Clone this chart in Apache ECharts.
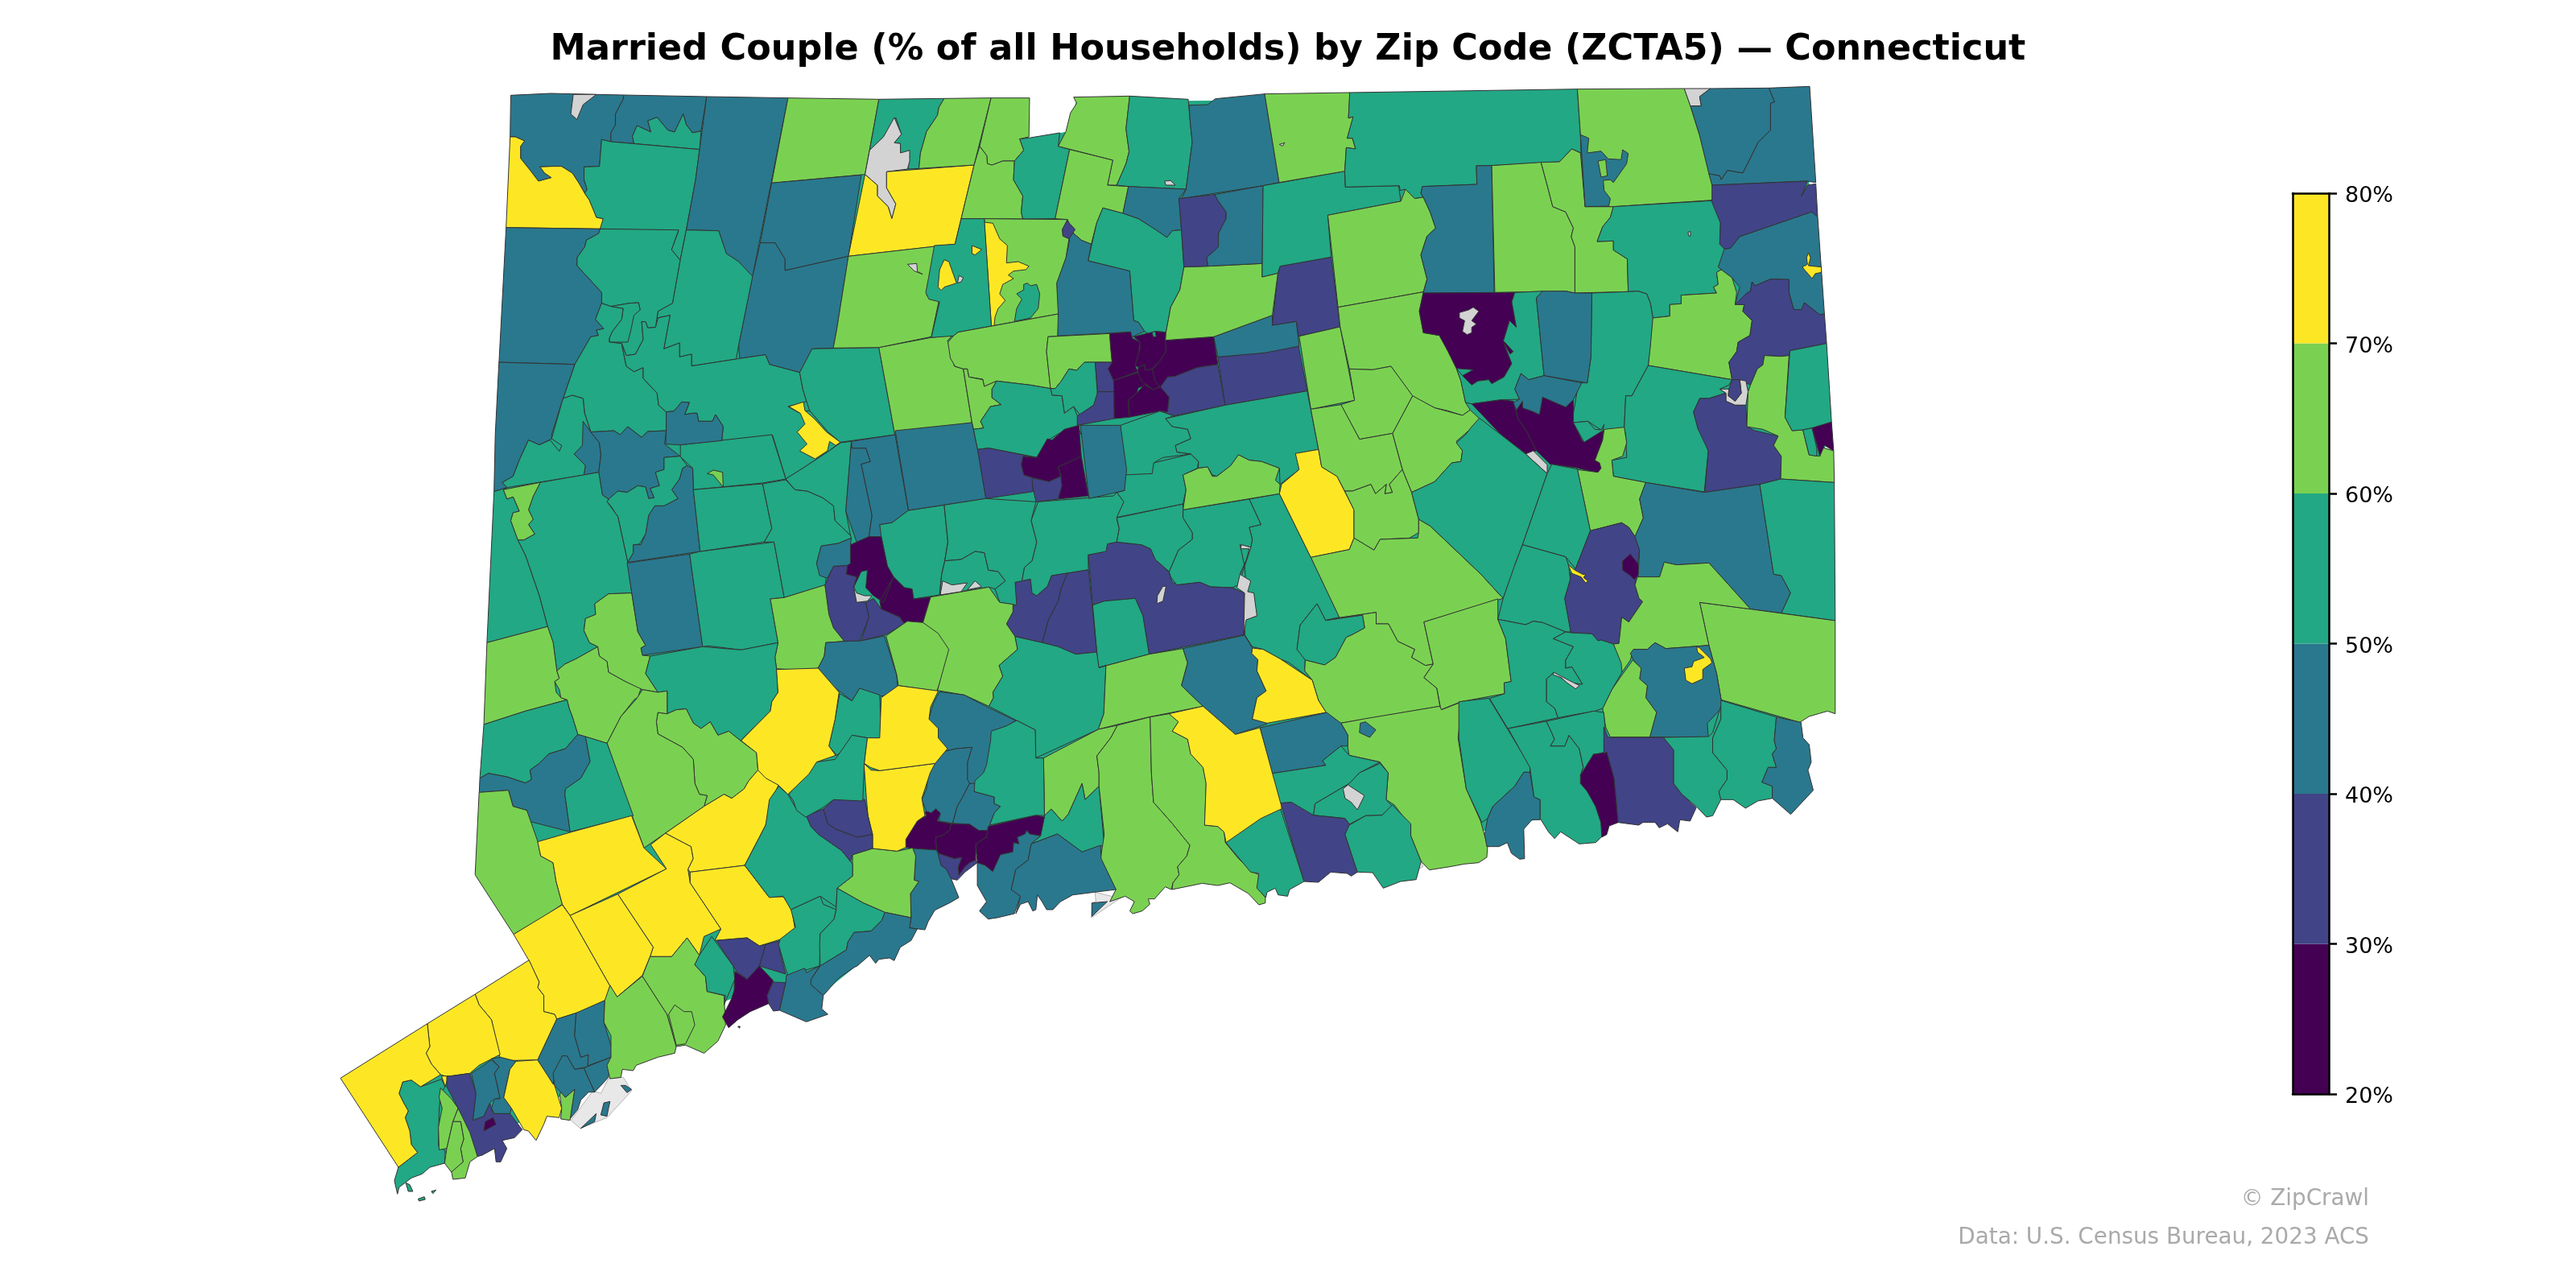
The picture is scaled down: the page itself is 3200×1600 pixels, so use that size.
<!DOCTYPE html>
<html>
  <head>
    <meta charset="UTF-8">
    <title>Married Couple by Zip Code - Connecticut</title>
    <script src="https://cdn.jsdelivr.net/npm/echarts@6/dist/echarts.min.js"></script>
    <style>html,body{margin:0;background:#fff}</style>
  </head>
  <body>
    <div id="box" style="width:3200px;height:1600px"></div>
    <script>
        // map boundaries are traced per crop: origin x, origin y, x scale, y scale
        var frames = {
            A: [600, 90, 2.613, 3], B: [1150, 90, 2.613, 3], C: [1700, 90, 2.613, 3],
            D: [580, 540, 2.613, 3], E: [1150, 540, 2.613, 3], F: [1700, 540, 2.613, 3],
            G: [400, 1000, 2.613, 3], H: [950, 960, 2.613, 3], I: [1500, 820, 1.96, 3],
            O: [0, 0, 0.49, 0.49]
        };

        var bandLabels = ['20%', '30%', '40%', '50%', '60%', '70%', '80%'];
        var bandTicks = [20, 30, 40, 50, 60, 70, 80];
        var barSteps = [30, 10, 10, 10, 10, 10];   // stacked, the first one is clipped at 20

        // inset state outline under everything, closes slivers between traced zones
        var landShare = 55;
        var landShape = ['O', [318,62,620,62,625,85,650,80,655,62,1098,58,1112,290,1112,430,1090,435,1095,470,1060,480,1000,490,940,498,860,515,800,515,760,528,700,530,640,538,605,535,597,520,580,520,572,545,550,565,500,605,470,598,440,610,385,645,340,668,290,700,250,705,230,680,215,657,260,632,289,613,325,597,330,575,300,540,295,480,303,300]];

        // coast patches, lightest grey, drawn next
        var paleShapes = [
            ['G', [808,1175,838,1205,925,1165,1005,1065,978,1015,930,1020,905,1075,880,1065]],
            ['H', [1072,445,1125,460,1170,455,1060,540,1062,485,1075,480]],
            ['I', [492,655,520,750,525,770,505,785,482,730]]
        ];

        // percent per zone, read from the colour band (null = no data)
        var sharesA = [45,75,null,45,55,55,45,65,45,45,55,55,45,55,55,55,75,55,65,55,null,75,65,65,null];
        var shapesA = [
            ['A', [90,85,220,78,368,82,457,84,455,100,430,155,430,195,415,225,415,258,385,250,378,350,328,352,328,400,338,435,330,450,310,410,290,375,255,350,225,350,185,352,200,375,222,392,180,405,150,360,122,320,122,275,135,255,105,240,88,240]],
            ['A', [88,240,105,240,135,255,122,275,122,320,150,360,180,405,222,392,200,375,185,352,225,350,255,350,290,375,310,410,330,450,345,475,362,520,368,540,390,545,388,570,380,583,75,578]],
            ['A', [293,82,368,82,325,120,305,175,285,155]],
            ['A', [457,84,726,90,708,218,680,225,660,195,650,155,635,190,622,222,600,215,565,167,535,180,545,222,500,198,485,238,490,265,415,258,415,225,430,195,430,155,455,100]],
            ['A', [500,198,545,222,535,180,565,167,600,215,622,222,635,190,650,155,660,195,680,225,708,218,703,287,490,265,485,238]],
            ['A', [385,250,415,258,703,287,690,400,660,585,640,700,612,660,635,590,380,583,390,545,368,540,345,475,330,450,338,435,328,400,328,352,378,350]],
            ['A', [726,90,990,95,935,412,875,760,850,735,830,705,790,675,765,590,660,587,690,400,703,287]],
            ['A', [990,95,1285,100,1240,380,937,412]],
            ['A', [937,412,1228,382,1186,685,980,738,980,695,948,635,900,635]],
            ['A', [900,635,948,635,980,695,980,738,1186,685,1148,960,1137,1027,1068,1030,1048,1075,1028,1118,930,1088,917,1052,833,1066,830,1015,875,760]],
            ['A', [660,587,765,590,790,675,830,705,875,760,830,1015,822,1068,677,1094,677,1050,638,1060,638,1008,587,1030,607,905,565,915,568,890,615,860,640,700]],
            ['A', [380,583,635,587,612,660,640,700,615,860,568,890,560,950,535,952,528,930,515,928,520,995,495,1050,465,1055,450,1010,410,1005,410,990,420,965,450,920,455,880,490,880,510,885,505,858,475,860,415,872,385,860,385,820,365,795,305,720,305,690,330,650,335,625,375,600]],
            ['A', [75,578,380,583,375,600,335,625,330,650,305,690,305,720,365,795,385,820,385,860,365,920,392,955,368,960,375,980,350,985,298,1088,52,1080]],
            ['A', [415,872,475,860,505,858,510,885,490,905,480,960,470,1005,410,1005,410,990,420,965,450,920,455,880]],
            ['A', [385,860,415,872,455,880,450,920,420,965,410,990,410,1005,450,1010,465,1095,490,1115,520,1100,520,1140,565,1195,570,1240,595,1265,595,1335,535,1338,515,1360,470,1320,445,1350,425,1335,350,1340,330,1270,325,1215,290,1203,260,1215,298,1088,350,985,375,980,368,960,392,955,365,920]],
            ['A', [450,1010,465,1055,495,1050,520,995,515,928,528,930,535,952,560,950,568,915,607,905,587,1030,638,1008,638,1060,677,1050,677,1094,822,1068,833,1066,917,1052,930,1088,1028,1118,1038,1180,1050,1225,1040,1230,990,1245,1025,1268,1060,1260,1090,1300,1120,1340,1160,1378,1118,1415,1038,1475,983,1515,940,1352,775,1372,780,1320,755,1275,745,1300,700,1300,695,1270,680,1270,655,1275,670,1230,645,1228,620,1262,595,1265,570,1240,565,1195,520,1140,520,1100,490,1115,465,1095]],
            ['A', [993,1245,1040,1228,1045,1260,1075,1290,1115,1340,1160,1378,1145,1390,1125,1375,1118,1410,1078,1440,1028,1410,1052,1385,1020,1340,1045,1310,1030,1270]],
            ['A', [1028,1118,1068,1030,1285,1025,1337,1350,1160,1378,1120,1340,1090,1300,1060,1260,1050,1225,1038,1180]],
            ['A', [1285,1025,1455,988,1525,978,1508,1000,1530,1095,1559,1105,1587,1305,1337,1350]],
            ['A', [1285,100,1497,97,1480,130,1475,160,1440,220,1420,300,1415,358,1380,360,1385,310,1355,300,1355,265,1335,262,1358,230,1340,168,1300,240,1255,290]],
            ['A', [1335,168,1358,230,1335,262,1355,265,1355,300,1385,290,1385,330,1378,360,1310,370,1310,430,1340,490,1327,545,1315,500,1280,460,1280,420,1240,380,1255,290,1300,240]],
            ['A', [1240,380,1280,420,1280,460,1315,500,1327,545,1340,490,1310,430,1310,370,1594,345,1532,640,1186,685]],
            ['A', [1497,97,1649,95,1594,345,1415,358,1420,300,1440,220,1475,160,1480,130]],
            ['A', [1186,685,1467,648,1440,830,1480,850,1455,985,1285,1025,1137,1027,1148,960]],
            ['A', [1378,715,1408,712,1410,742,1427,752,1400,740]]
        ];

        var sharesB = [65,65,55,65,55,null,65,45,45,55,45,35,65,75,55,55,75,75,null,65,65,55,35,35,25,25,25,25,25,25,55,35,35,45,35,65,35,45,55,65,null,65,65,55];
        var shapesB = [
            ['B', [212,95,337,95,335,240,305,248,318,290,288,330,250,330,215,345,200,340,198,310,175,275]],
            ['B', [175,275,198,310,200,340,215,345,250,330,288,330,285,400,315,460,310,520,315,546,115,545,157,345]],
            ['B', [305,248,340,243,435,225,430,275,467,287,420,545,315,546,310,520,315,460,285,400,288,330,318,290]],
            ['B', [480,92,662,88,650,210,660,295,650,340,620,420,590,420,607,327,430,275,455,220,470,150,490,115]],
            ['B', [662,88,852,100,858,180,865,260,845,435,658,425,620,420,650,340,660,295,650,210]],
            ['B', [775,405,795,403,810,420,780,420]],
            ['B', [467,287,607,327,590,420,658,425,640,525,575,505,555,560,537,640,505,625,480,600,460,548,420,545]],
            ['B', [855,122,915,120,940,98,1100,80,1147,410,1095,422,830,470,845,435,865,260,858,180]],
            ['B', [658,425,845,435,822,470,830,587,800,590,783,615,745,585,690,545,640,525]],
            ['B', [575,505,640,525,690,545,745,585,783,615,800,590,830,587,838,725,825,810,795,875,780,968,745,965,740,985,710,965,690,930,675,925,662,740,527,702,555,560]],
            ['B', [460,600,480,600,505,625,537,640,527,702,662,740,675,925,690,930,710,965,665,988,665,967,428,982,425,785,455,690,467,625]],
            ['B', [455,548,485,585,465,620,445,610,443,585]],
            ['B', [190,545,460,548,443,585,445,610,465,620,455,690,425,785,430,900,213,945]],
            ['B', [190,558,218,562,240,620,265,645,262,710,300,705,335,722,325,735,285,740,268,755,285,768,250,790,240,825,258,850,235,880,225,910,222,945,213,945]],
            ['B', [288,928,295,880,312,845,295,825,318,810,318,790,330,785,340,795,360,790,370,825,365,880,340,915]],
            ['B', [28,645,95,640,115,545,190,545,213,945,105,968,90,982,18,988,45,855,10,845,0,820,10,760]],
            ['B', [150,645,182,660,160,680,150,675]],
            ['B', [45,735,60,698,75,705,100,785,60,800,50,812,40,800]],
            ['B', [103,785,108,757,122,765,115,780]],
            ['B', [72,1005,90,982,105,968,430,900,428,982,397,985,392,1040,405,1178,340,1165,230,1150,190,1170,185,1143,140,1135,135,1105,122,1105,95,1095,80,1065]],
            ['B', [397,985,597,973,605,1080,515,1080,490,1110,465,1105,440,1150,420,1178,405,1178,392,1040]],
            ['B', [405,1178,420,1178,440,1150,465,1105,490,1110,515,1080,550,1080,558,1210,545,1240,500,1275,480,1245,450,1270,442,1205,410,1203]],
            ['B', [550,1080,605,1080,612,1190,558,1190]],
            ['B', [558,1190,612,1190,612,1290,492,1315,492,1280,545,1240]],
            ['B', [597,973,665,967,670,990,695,1005,690,1060,680,1092,688,1115,610,1148,592,1105,605,1080,600,1025]],
            ['B', [675,985,745,965,778,968,780,1040,760,1075,735,1105,712,1110,710,1088,690,1100,680,1090,695,1030,695,1005]],
            ['B', [778,998,935,985,948,1088,880,1100,810,1132,785,1135,762,1172,740,1150,733,1110,760,1075,780,1040]],
            ['B', [610,1148,688,1118,712,1160,720,1165,690,1175,685,1195,658,1220,660,1285,612,1290]],
            ['B', [658,1220,685,1195,710,1163,738,1182,762,1172,790,1210,785,1265,760,1262,660,1285]],
            ['B', [690,1100,710,1088,712,1110,735,1105,745,1150,760,1172,738,1182,700,1150,688,1115]],
            ['B', [735,968,745,965,748,985,738,985]],
            ['B', [785,1135,810,1132,880,1100,948,1088,972,1240,805,1280,760,1262,785,1265,790,1210,762,1172]],
            ['B', [948,1060,1000,1055,1210,1020,1238,1187,972,1240]],
            ['B', [935,985,1125,905,1125,942,1203,928,1212,1020,1100,1045,1000,1055,948,1060]],
            ['B', [1150,722,1316,688,1345,948,1210,983,1203,928,1125,942,1142,760]],
            ['B', [838,725,916,722,1092,712,1092,762,1143,748,1125,905,935,985,778,998,780,968,795,875,825,810]],
            ['B', [822,470,938,455,950,480,975,520,975,545,950,600,950,650,912,690,916,722,838,725,830,587]],
            ['B', [938,455,1095,422,1092,712,916,722,912,690,950,650,950,600,975,545,975,520,950,480]],
            ['B', [1095,422,1360,368,1362,427,1535,422,1542,480,1305,532,1316,688,1150,722,1143,748,1092,762]],
            ['B', [1100,80,1377,75,1372,170,1388,165,1368,245,1385,245,1395,285,1365,280,1360,368,1147,410]],
            ['B', [1148,268,1165,262,1158,275]],
            ['B', [1212,983,1345,948,1392,1222,1250,1255]],
            ['B', [122,1105,135,1105,140,1135,185,1145,190,1170,230,1150,215,1180,215,1212,245,1238,210,1245,178,1300,188,1325,155,1330,150,1305]],
            ['B', [230,1150,340,1165,405,1178,410,1203,442,1205,450,1270,480,1245,492,1280,492,1315,505,1350,495,1330,440,1340,398,1370,362,1435,205,1400,168,1405,155,1330,188,1325,178,1300,210,1245,245,1238,215,1212,215,1180]]
        ];

        var sharesC = [55,65,65,45,65,65,65,45,65,null,45,45,35,45,75,55,null,65,35,25,null,55,55,45,25,25,null,55,65,55,null,35,35,65,55,55,25];
        var shapesC = [
            ['C', [-61,75,678,62,688,232,690,300,660,285,620,333,400,347,350,348,352,417,175,425,170,450,178,465,150,470,120,435,103,440,100,422,-75,427,-77,368,-72,280,-42,285,-52,245,-69,245,-50,165,-65,170]],
            ['C', [-132,532,105,480,120,435,150,470,178,465,200,520,218,580,190,610,170,680,190,770,178,818,-99,875]],
            ['C', [-99,875,178,818,165,890,178,970,230,980,280,1080,300,1150,315,1230,330,1258,305,1278,255,1260,215,1250,145,1210,73,1095,13,1108,-62,1105,-92,948]],
            ['C', [175,425,352,417,350,348,400,347,408,820,178,822,190,770,170,680,190,610,218,580,200,520,178,465,170,450]],
            ['C', [400,347,560,335,580,420,598,500,640,520,665,580,658,612,670,650,670,822,640,815,410,820]],
            ['C', [560,335,620,333,660,285,688,300,703,500,795,500,785,540,760,575,742,630,795,628,795,662,840,695,843,817,670,822,670,650,658,612,665,580,640,520,598,500,580,420]],
            ['C', [678,62,1025,60,1045,125,1075,235,1128,475,795,500,703,500,688,232]],
            ['C', [688,232,715,245,710,300,755,293,778,322,820,325,825,288,843,302,838,340,795,410,785,400,762,402,765,440,785,470,780,498,703,500]],
            ['C', [745,330,770,325,775,385,755,390]],
            ['C', [1025,60,1110,60,1075,90,1080,125,1045,125]],
            ['C', [1110,60,1300,58,1318,110,1305,115,1305,215,1265,260,1235,330,1215,375,1165,365,1145,400,1140,385,1105,378,1075,235,1045,125,1080,125,1075,90]],
            ['C', [1300,58,1432,52,1452,410,1420,405,1115,420,1105,378,1140,385,1145,400,1165,365,1215,375,1235,330,1265,260,1305,215,1305,115,1318,110]],
            ['C', [1115,420,1425,405,1405,462,1425,420,1452,415,1458,538,1438,520,1205,612,1175,655,1155,658,1140,640,1142,560,1115,510]],
            ['C', [1205,612,1438,520,1458,538,1480,900,1465,903,1415,858,1405,885,1380,883,1365,820,1365,772,1305,770,1255,795,1245,780,1240,815,1225,825,1225,860,1190,865,1205,800,1180,765,1145,735,1135,725,1150,660,1175,655]],
            ['C', [1428,672,1435,690,1428,720,1470,725,1470,745,1450,750,1440,768,1415,735,1408,725,1425,715,1422,690]],
            ['C', [795,500,1113,478,1142,560,1140,640,1155,658,1135,725,1145,735,1130,745,1135,790,1120,800,1130,822,1015,830,1015,862,978,865,978,908,923,915,915,860,903,825,875,815,843,817,840,695,795,662,795,628,742,630,760,575,785,540]],
            ['C', [1037,595,1045,593,1045,610,1040,610]],
            ['C', [1130,745,1145,735,1180,765,1195,820,1190,865,1220,865,1215,890,1245,925,1238,980,1200,1005,1195,1040,1170,1080,1180,1145,908,1092,922,915,978,908,978,865,1015,862,1015,830,1130,822,1120,800,1135,790]],
            ['C', [1225,825,1240,815,1245,780,1255,795,1305,770,1365,772,1365,820,1380,883,1405,885,1415,858,1465,903,1480,900,1487,1010,1368,1037,1365,1055,1340,1058,1285,1055,1280,1090,1262,1105,1240,1165,1205,1145,1180,1145,1170,1080,1195,1040,1200,1005,1238,980,1245,925,1215,890,1220,865,1190,865]],
            ['C', [178,822,475,820,465,855,480,950,458,925,438,1000,470,1040,460,1050,440,1010,465,1085,440,1135,400,1160,390,1145,355,1150,335,1165,305,1130,340,1108,285,1103,258,1040,230,980,178,970,165,890]],
            ['C', [295,895,325,885,340,875,358,890,335,925,350,938,335,950,335,970,320,977,305,965,312,925,295,915]],
            ['C', [475,820,565,815,545,840,570,1130,520,1145,495,1122,475,1180,490,1218,430,1220,335,1235,315,1230,300,1150,285,1103,305,1130,335,1165,355,1150,390,1145,400,1160,440,1135,465,1085,440,1010,460,1050,470,1040,438,1000,458,925,480,950,465,855]],
            ['C', [725,822,843,817,875,815,903,825,915,860,923,915,915,1020,908,1092,855,1205,835,1205,830,1325,765,1332,755,1332,712,1300,665,1305,665,1270,680,1170,692,1157,710,1157,722,1060]],
            ['C', [565,815,640,815,670,822,725,822,722,1060,710,1157,570,1130,545,840]],
            ['C', [335,1235,430,1220,470,1225,485,1290,515,1340,545,1410,510,1420,430,1350]],
            ['C', [470,1225,480,1258,500,1225,500,1250,530,1262,555,1275,565,1210,640,1247,665,1220,665,1305,695,1375,762,1335,760,1370,735,1445,750,1455,755,1475,745,1492,670,1472,590,1460,545,1410,515,1340,485,1290]],
            ['C', [510,1422,535,1410,580,1462,580,1495]],
            ['C', [665,1305,712,1300,735,1330,755,1332,765,1312,760,1335,700,1378]],
            ['C', [78,1345,143,1205,215,1250,305,1278,330,1258,360,1290,340,1320,285,1375,305,1410,300,1450,270,1455,215,1525,140,1565,110,1480]],
            ['C', [835,1205,855,1205,908,1092,1180,1145,1170,1165,1140,1180,1160,1195,1105,1215,1075,1215,1055,1265,1070,1330,1085,1345,1103,1410,1090,1563,900,1528,795,1505,790,1445,838,1435,835,1350,830,1325]],
            ['C', [1140,1180,1170,1180,1168,1205,1190,1225,1210,1195,1205,1145,1225,1150,1232,1190,1225,1240,1190,1240,1160,1225,1160,1195]],
            ['C', [1180,1145,1205,1145,1210,1195,1190,1225,1168,1205,1170,1180]],
            ['C', [1075,1215,1105,1215,1160,1195,1160,1225,1190,1240,1225,1240,1228,1320,1255,1335,1330,1355,1315,1390,1340,1430,1338,1515,1270,1535,1092,1565,1103,1410,1070,1330,1055,1265]],
            ['C', [1285,1055,1340,1058,1365,1055,1352,1285,1375,1335,1410,1332,1430,1425,1465,1430,1465,1395,1510,1410,1512,1528,1338,1515,1340,1430,1315,1390,1330,1355,1280,1330,1228,1320,1232,1190,1240,1165,1262,1105,1280,1090]],
            ['C', [1368,1037,1487,1010,1503,1303,1440,1325,1410,1332,1375,1335,1352,1285]],
            ['C', [1410,1332,1440,1325,1455,1400,1455,1430,1430,1425]],
            ['C', [1440,1325,1503,1303,1510,1410,1480,1390,1465,1430,1455,1385]]
        ];

        var sharesC2 = [45,65,65];
        var shapesC2 = [
            ['C', [495,1122,520,1145,570,1130,692,1157,665,1220,640,1247,565,1210,555,1275,530,1262,500,1250,500,1225,480,1258,470,1230,490,1218,475,1180]],
            ['C', [-62,1105,13,1108,73,1095,143,1205,78,1345,-29,1367,-90,1238,-45,1222]],
            ['F', [765,-20,830,-28,838,30,825,80,790,95,795,155,900,178,880,240,892,310,865,380,845,345,822,328,720,358,678,130,745,140,755,125,750,105,735,95,760,20]]
        ];

        var sharesD = [45,55,45,45,55,45,65,45,55,55,65,55,65,65,65,45,55,55,55,55,45,45,55,25,35,35,null,45,65,45,55,65,65,55,45,55,65,65];
        var shapesD = [
            ['D', [104,-270,350,-262,312,-135,275,0,275,15,235,38,200,20,170,95,150,155,115,178,130,197,88,212,92,0]],
            ['D', [312,-135,342,-147,377,-135,382,-80,402,-10,375,40,348,72,385,115,380,150,130,197,115,178,150,155,170,95,200,20,235,38,270,20,300,62,308,40,275,15]],
            ['D', [377,-50,402,-10,430,30,435,75,428,140,380,150,385,115,348,72,375,40]],
            ['D', [402,-10,477,-15,497,0,522,-30,567,10,587,-12,647,-15,642,35,692,80,640,85,640,130,612,140,625,190,595,200,608,235,590,238,580,195,555,190,520,215,490,210,460,240,440,225,428,140,435,75,430,30]],
            ['D', [693,38,990,0,1035,165,960,180,735,205,733,125,693,82]],
            ['D', [647,-85,672,-88,697,-122,722,-120,707,-75,732,-80,747,-80,752,-50,797,-50,807,-75,832,-30,827,22,692,38,645,35,647,-15]],
            ['D', [780,145,800,132,830,140,832,195,800,150]],
            ['D', [715,115,733,125,735,205,757,435,522,476,540,440,540,410,565,410,580,370,590,300,610,265,640,265,685,238,665,205,690,165,700,125]],
            ['D', [692,80,715,115,700,125,690,165,665,205,685,238,640,265,610,265,590,300,580,370,560,408,540,410,540,440,522,475,490,305,483,295,470,270,455,250,460,240,490,210,520,215,555,190,580,195,590,238,608,235,595,200,625,190,612,140,640,130,640,85]],
            ['D', [238,178,428,140,440,225,460,240,455,250,490,305,522,475,535,590,460,593,415,630,418,670,385,685,380,730,398,775,425,790,355,835,318,855,292,880,280,775,262,715,235,600,190,450,165,392,185,392,220,370,200,335,215,315,200,280,215,230]],
            ['D', [118,205,238,178,215,230,200,280,215,315,200,335,220,370,185,392,165,392,142,320,150,290,170,285,150,232,130,240]],
            ['D', [88,212,130,197,118,205,130,240,150,232,170,285,150,290,142,320,165,392,190,450,235,600,262,715,65,775]],
            ['D', [65,775,262,715,280,775,292,880,300,908,285,920,290,960,305,980,325,988,190,1030,55,1080]],
            ['D', [292,880,318,855,355,835,425,790,430,825,455,845,460,885,515,920,565,945,555,980,545,985,500,1050,455,1150,360,1117,342,1050,332,1020,325,988,305,980,300,950,285,920,300,908]],
            ['D', [460,593,535,590,555,735,580,785,565,795,570,822,595,825,580,890,620,960,570,950,515,920,460,885,455,845,430,825,425,790,398,775,380,730,385,685,418,670,415,630]],
            ['D', [520,478,723,445,765,790,570,822,565,795,580,785,555,735]],
            ['D', [723,445,757,435,997,400,1030,607,985,612,1010,775,890,802,785,787,765,790]],
            ['D', [735,205,960,183,990,350,965,400,757,435]],
            ['D', [960,183,1035,168,1065,205,1105,210,1155,235,1190,265,1195,320,1245,375,1248,385,1205,405,1150,415,1135,480,1165,535,1165,560,1030,607,997,400,965,400,990,350]],
            ['D', [1035,165,1090,125,1170,65,1213,30,1248,25,1230,285,1245,375,1195,320,1190,265,1155,235,1105,210,1065,205]],
            ['D', [1248,25,1250,50,1295,50,1310,100,1280,110,1315,300,1305,380,1265,400,1230,285]],
            ['D', [1248,25,1390,0,1433,282,1380,328,1340,335,1350,380,1305,380,1315,300,1280,110,1310,100,1295,50,1250,50]],
            ['D', [1340,335,1380,328,1433,282,1549,262,1561,400,1551,470,1541,520,1534,597,1450,612,1445,575,1420,570,1385,530,1365,490,1345,380]],
            ['D', [1245,410,1305,380,1345,380,1365,490,1385,530,1420,570,1445,575,1450,612,1505,605,1480,700,1420,705,1405,680,1345,650,1340,620,1385,530,1352,625,1320,600,1295,570,1300,505,1280,510,1255,570,1265,530,1232,520,1235,485,1245,480]],
            ['D', [1190,490,1235,487,1232,520,1265,530,1255,570,1265,620,1295,625,1305,680,1275,770,1225,770,1190,720,1175,670,1162,560]],
            ['D', [1295,625,1320,610,1345,650,1405,680,1420,705,1360,745,1280,768,1305,680]],
            ['D', [1255,565,1265,590,1290,600,1315,600,1300,620,1265,625]],
            ['D', [1150,415,1205,405,1248,385,1245,410,1245,480,1235,487,1190,490,1170,535,1145,525,1135,480]],
            ['D', [985,612,1030,607,1162,560,1175,670,1190,720,1225,770,1165,775,1160,825,1140,870,1085,878,1005,872,1000,830,1010,775]],
            ['D', [1165,775,1225,770,1280,768,1355,750,1395,895,1400,965,1340,975,1275,945,1250,992,1140,895,1140,870,1160,825]],
            ['D', [580,890,595,825,765,790,890,802,1010,775,1000,830,1005,872,1010,960,990,995,985,1030,888,1140,850,1105,815,1120,790,1070,760,1095,735,1075,712,1022,680,1025,650,1040,650,955,620,960]],
            ['D', [620,1035,650,1040,680,1025,712,1022,735,1075,760,1095,790,1070,815,1120,850,1105,888,1140,940,1185,945,1250,915,1290,900,1320,860,1355,835,1340,770,1385,780,1345,755,1340,740,1300,735,1210,700,1165,620,1115,615,1070]],
            ['D', [550,985,570,950,620,960,650,955,650,1040,620,1035,615,1070,620,1115,700,1165,735,1210,740,1300,755,1340,780,1345,770,1385,575,1540,537,1422,455,1150,500,1050]],
            ['D', [55,1080,190,1030,325,988,332,1020,342,1050,360,1117,320,1170,265,1190,235,1225,205,1250,210,1285,190,1298,130,1275,70,1262,42,1280]],
            ['D', [42,1280,70,1262,130,1275,190,1298,210,1285,205,1250,235,1225,265,1190,320,1170,360,1117,385,1125,400,1218,370,1280,320,1320,318,1340,335,1480,200,1440,195,1400,150,1385,135,1325,40,1333]],
            ['D', [385,1125,455,1150,540,1420,335,1480,318,1340,320,1320,370,1280,400,1218]],
            ['E', [-9,700,-60,695,-129,750,-94,895,-89,935,36,955,76,830,76,790,41,730]],
            ['G', [510,-47,605,-55,620,5,665,20,700,135,710,190,750,215,760,285,780,370,715,420,622,482,497,260]]
        ];

        var sharesE = [55,55,55,55,35,null,null,55,35,35,55,55,55,65,75,55,45,25,25,35,35,45,55,55,null,null,65,55,65,45,75,65,45,65,65,65,65];
        var shapesE = [
            ['E', [1050,240,1148,220,1250,457,1343,680,1298,692,1270,630,1215,710,1205,800,1232,830,1230,880,1255,915,1180,850,1150,835,1095,800,1060,790,1035,745,1035,690,1075,675,1045,585,1040,560,1035,490,1055,420,1060,390,1050,345,1088,335]],
            ['E', [1298,692,1418,672,1425,720,1385,745,1365,755,1330,830,1295,858,1232,840,1205,800,1215,710,1270,630]],
            ['E', [835,280,1050,240,1088,335,1050,345,1060,390,1055,420,1020,410,1035,490,1015,560,995,570,925,567,890,550,815,560,795,530,790,510,820,430,865,390,865,365,835,310]],
            ['E', [778,-60,972,-110,1238,-163,1275,55,1205,70,1212,130,1150,185,1148,125,1090,100,1050,95,1015,75,990,115,945,155,930,150,915,120,885,125,885,100,860,72,815,65,810,40,860,15,850,-20,800,-30]],
            ['E', [527,448,580,435,590,407,620,400,700,410,730,425,745,465,775,495,790,515,800,548,815,560,890,550,925,567,995,570,1035,590,1035,745,725,818,705,675,680,610,640,615,580,620,542,635]],
            ['E', [770,565,780,565,770,620,750,630,752,600]],
            ['E', [1025,410,1055,420,1040,470,1020,520,1055,545,1045,585,1065,590,1075,675,1040,690,1032,745,1035,590,1010,570,1020,520,1040,470,1050,425,1022,425]],
            ['E', [542,635,580,620,680,610,705,675,725,818,560,868]],
            ['E', [408,525,528,503,555,810,487,818,430,790,378,775,398,690,430,620,440,570,460,515]],
            ['E', [290,550,340,538,345,590,360,600,395,565,408,525,460,515,440,570,430,620,398,690,378,775,290,752,262,705,270,680,283,660]],
            ['E', [365,250,610,228,620,215,643,250,625,310,620,315,628,350,620,400,590,407,585,435,527,448,528,503,408,525,395,565,360,600,345,590,340,538,312,545,320,495,345,470,360,400,342,320]],
            ['E', [620,310,835,258,835,310,865,365,865,390,820,430,790,510,775,495,745,465,730,425,700,410,620,400,628,350]],
            ['E', [640,150,740,105,860,72,885,100,882,125,835,150,845,205,835,258,620,308,643,250,620,215,645,208]],
            ['E', [835,150,885,125,915,120,930,155,945,155,990,115,1015,75,1050,95,1090,100,1148,125,1135,170,1150,185,1148,220,835,280,845,205]],
            ['E', [1200,70,1275,55,1285,120,1335,155,1390,280,1390,385,1375,428,1250,457,1148,220,1155,185,1212,130]],
            ['E', [632,-35,760,-88,805,-70,778,-60,800,-30,850,-20,860,15,810,40,815,65,860,72,770,85,740,105,735,145,640,150,628,0]],
            ['E', [502,-35,632,-35,652,130,645,208,530,238]],
            ['E', [310,110,316,80,360,85,395,15,410,20,450,-20,497,-35,505,80,470,100,430,120,438,155,400,175,340,158,318,150]],
            ['E', [430,120,470,100,505,80,528,228,430,240,440,155]],
            ['E', [340,160,400,175,438,155,442,190,430,240,358,250]],
            ['E', [168,55,205,50,360,85,316,80,310,110,318,150,345,160,348,212,195,238]],
            ['E', [-99,-15,150,-45,168,55,195,238,-56,282]],
            ['E', [60,262,195,238,358,250,342,320,360,400,345,470,320,495,312,545,290,550,295,635,240,625,225,575,258,545,235,510,203,505,190,440,160,435,115,465,62,470,72,400]],
            ['E', [62,470,115,465,160,435,190,440,203,505,235,510,258,545,225,575,205,568,45,597,52,520]],
            ['E', [47,597,55,545,85,560,135,552,115,585]],
            ['E', [135,578,160,545,182,567]],
            ['E', [16,605,205,568,240,625,283,632,283,660,262,705,290,752,298,800,238,860,250,900,218,960,220,980,205,1012,125,970,38,953,75,800,40,740,-9,700]],
            ['E', [205,1012,220,980,218,960,250,900,238,860,298,800,290,752,378,775,430,790,487,818,555,810,562,868,585,860,578,1040,560,1098,357,1205,355,1100,295,1065]],
            ['E', [562,868,725,818,835,797,850,850,830,935,900,1012,725,1052,622,1080,560,1098,578,1040,585,860]],
            ['E', [835,797,1035,747,1060,795,1058,815,1078,838,1075,880,1105,955,1075,980,1060,1060,1108,1065,1108,1078,1005,1117,900,1012,830,935,850,850]],
            ['E', [1060,795,1095,800,1150,835,1255,915,1275,990,1300,1035,1108,1075,1060,1060,1075,980,1105,955,1075,880,1078,838,1058,815]],
            ['E', [1250,-95,1348,-112,1408,17,1515,-5,1547,130,1505,185,1515,215,1490,220,1495,185,1460,220,1445,185,1385,210,1360,210,1335,155,1285,120,1275,55]],
            ['E', [45,958,125,970,205,1018,292,1065,265,1085,215,1105,205,1220,185,1280,160,1310,135,1295,135,1220,150,1165,100,1170,60,1180,20,1170,10,1060,25,1000]],
            ['E', [1385,210,1445,185,1460,220,1495,185,1490,220,1515,215,1505,185,1547,130,1577,215,1600,315,1600,365,1570,385,1475,390,1455,430,1390,385,1390,280,1360,210]],
            ['E', [1250,457,1375,428,1390,385,1455,430,1475,390,1597,385,1600,365,1600,315,1637,340,1802,520,1874,610,1617,698,1647,855,1622,860,1577,830,1587,800,1532,770,1502,705,1462,705,1462,662,1343,682]],
            ['E', [1343,682,1462,662,1462,705,1502,705,1532,770,1587,800,1577,830,1622,860,1647,855,1617,905,1659,945,1669,1012,1437,1058,1345,1075,1300,1035,1275,990,1255,915,1230,880,1232,840,1295,858,1330,830,1365,755,1385,745,1425,720,1418,672,1298,692]],
            ['F', [180,698,420,612,420,688,445,760,463,920,440,925,442,965,300,995,235,1025,222,945,180,905,210,855]]
        ];

        var sharesF = [55,55,55,55,35,25,75,45,55,65,65,45,75,65,55,55,null];
        var shapesF = [
            ['F', [360,-62,430,0,510,72,580,145,500,410,437,610,365,520,200,340,163,315,140,215,215,175,270,105,300,100,305,60,285,30,315,0,335,-30]],
            ['F', [595,110,678,128,720,358,672,500,640,455,500,410,580,145]],
            ['F', [500,410,515,450,500,480,475,485]],
            ['F', [500,410,640,455,650,488,655,540,637,610,657,735,640,735,565,700,535,695,510,708,420,688,437,610,475,485]],
            ['F', [720,358,822,328,845,345,865,380,880,430,868,530,865,560,878,610,890,622,845,698,822,680,813,778,795,780,755,765,745,768,725,742,657,738,637,610,655,540,655,515,672,500]],
            ['F', [850,445,860,460,875,480,880,520,863,540,850,525,825,505,825,470]],
            ['F', [648,485,670,505,695,520,705,522,698,532,712,545,705,553,690,530,660,517]],
            ['F', [900,178,1090,215,1270,185,1315,520,1340,525,1370,590,1340,665,1240,650,1105,478,1000,485,960,475,945,530,875,530,880,430,865,380,892,310,880,240]],
            ['F', [1270,185,1338,165,1512,178,1515,693,1340,665,1370,590,1340,525,1315,520]],
            ['F', [1075,625,1240,650,1515,693,1515,1040,1490,1030,1430,1050,1400,1072,1145,988,1130,890,1105,785]],
            ['F', [873,530,945,530,960,475,1000,485,1105,478,1240,650,1075,625,1105,785,965,797,930,775,905,800,860,800,850,840,823,885,795,780,813,778,822,680,845,698,890,622,878,610,865,560]],
            ['F', [850,815,860,800,905,800,930,775,965,797,1105,785,1130,890,1145,990,1145,1020,1100,1075,1103,1127,913,1127,935,1035,900,980,905,935,880,910,885,870,860,840]],
            ['F', [1065,790,1075,795,1110,835,1115,850,1085,875,1085,910,1050,928,1030,915,1025,870,1050,865,1055,845,1090,830,1068,810]],
            ['F', [858,840,885,870,880,910,905,935,900,980,935,1035,913,1127,785,1127,770,1090,760,1020,790,950,820,900]],
            ['F', [420,688,510,708,535,695,565,700,640,735,600,760,665,790,640,840,640,870,660,865,695,930,650,925,600,888,578,910,578,995,605,1020,615,1055,452,1095,393,983,442,965,440,925,463,920,445,760]],
            ['F', [640,735,657,738,725,742,745,768,755,765,795,780,820,850,823,885,790,950,760,1020,735,1030,660,1045,615,1055,605,1020,578,995,578,910,600,888,650,925,695,930,660,865,640,870,640,840,665,790,600,760]],
            ['F', [600,885,625,900,650,915,685,935,672,947,645,925,625,905,600,895]]
        ];

        var sharesG = [75,75,75,75,75,75,75,75,55,75,75,65,65,65,35,25,45,45,75,45,45,45,45,65,45,45,45,65,65,65,55,35,35,25,35,55,55,55,25];
        var shapesG = [
            ['G', [700,137,812,100,1005,40,1045,160,1118,238,805,412,780,370,760,285,750,215,710,190]],
            ['G', [1115,105,1198,155,1205,200,1188,240,1195,290,1295,462,1240,490,1225,560,1185,495,1135,565,1065,565,1075,530,960,332,1118,238,1067,148]],
            ['G', [1115,105,1240,5,1305,-40,1330,-25,1370,-60,1385,-90,1415,-130,1445,-100,1482,-75,1460,-20,1440,75,1372,225,1195,250,1188,240,1205,200,1198,155]],
            ['G', [1195,250,1372,225,1450,342,1498,342,1525,390,1535,460,1490,500,1420,525,1380,495,1275,505,1295,462,1195,290]],
            ['G', [805,412,960,332,1075,530,1065,565,1040,635,958,715,935,675]],
            ['G', [622,482,780,372,805,412,935,675,920,728,840,770,762,798,755,780,720,770,720,710,700,680,705,660,672,580]],
            ['G', [497,705,672,578,705,660,700,680,720,710,720,770,755,780,762,798,700,950,580,953,550,800,510,745]],
            ['G', [342,815,497,705,510,745,550,800,578,930,510,970,480,1000,405,1012,385,1005,355,965,338,925,350,900]],
            ['G', [262,1032,290,1025,320,1050,388,1022,400,1050,385,1075,380,1140,378,1270,400,1290,398,1335,350,1350,325,1375,290,1390,250,1425,245,1450,235,1400,248,1350,310,1295,290,1265,285,1215,270,1165,280,1140,265,1110,250,1075]],
            ['G', [60,1018,342,815,350,900,338,925,355,965,385,1005,320,1050,290,1025,262,1032,250,1075,265,1110,280,1140,270,1165,285,1215,290,1265,310,1295,248,1350]],
            ['G', [388,1010,410,1010,400,1050]],
            ['G', [385,1055,420,1095,442,1130,425,1180,405,1280,380,1285,378,1200,390,1130,380,1090]],
            ['G', [442,1130,490,1220,505,1310,480,1330,465,1390,425,1395,420,1365,458,1330,450,1280,460,1245,450,1180,425,1180]],
            ['G', [425,1180,450,1180,460,1245,450,1280,458,1330,420,1368,398,1335,405,1280]],
            ['G', [405,1012,480,1000,485,1020,500,1075,490,1175,525,1160,545,1110,555,1150,610,1150,650,1210,625,1240,585,1250,600,1280,580,1330,565,1330,560,1280,520,1305,505,1310,480,1220,442,1130,405,1050]],
            ['G', [530,1180,555,1165,565,1190,525,1215]],
            ['G', [485,1000,550,950,575,975,560,1000,570,1050,578,1090,555,1100,545,1110,525,1160,490,1175,500,1075]],
            ['G', [550,945,580,940,630,955,610,985,595,1060,590,1090,615,1130,610,1150,560,1150,550,1130,560,1095,578,1095,570,1050,560,1000,575,975]],
            ['G', [630,955,700,950,755,1045,778,1130,770,1165,730,1160,720,1190,695,1250,670,1215,655,1210,615,1130,590,1090,610,985]],
            ['G', [762,798,825,775,820,860,840,940,865,930,865,975,820,985,795,935,780,935,760,990,750,1040,700,950]],
            ['G', [825,775,918,728,915,810,940,905,938,940,862,972,865,930,840,940,820,860]],
            ['G', [755,1045,750,1000,780,935,795,935,820,985,850,980,885,1070,865,1070,840,1100,830,1135,805,1170,820,1060,790,1090]],
            ['G', [850,980,938,940,930,1015,885,1070]],
            ['G', [775,1070,790,1090,820,1060,805,1175,775,1170,778,1130,772,1080]],
            ['G', [840,1205,890,1150,885,1180]],
            ['G', [905,1155,925,1160,930,1130,935,1105,915,1110]],
            ['G', [970,1045,985,1045,1005,1060,990,1072]],
            ['G', [935,672,958,715,1040,638,1100,745,1120,780,1150,900,1145,925,1090,940,1020,970,1010,990,975,985,970,1015,935,1020,925,970,938,940,938,860,915,810,918,728]],
            ['G', [1040,638,1065,565,1135,565,1185,495,1225,560,1210,595,1245,640,1250,695,1305,710,1310,820,1285,880,1240,925,1180,895,1150,900,1120,780,1100,745]],
            ['G', [1125,780,1145,745,1175,770,1200,770,1210,820,1180,890,1150,895]],
            ['G', [1265,490,1335,600,1340,650,1305,745,1310,710,1250,695,1245,640,1210,595,1225,560]],
            ['G', [1280,505,1380,495,1420,525,1440,520,1420,600,1380,650,1345,620,1335,600]],
            ['G', [1440,520,1490,505,1485,540,1505,630,1420,600]],
            ['G', [1340,620,1380,650,1420,600,1465,655,1445,710,1450,740,1390,770,1350,800,1320,830,1300,790,1330,720,1338,690]],
            ['G', [1465,660,1505,662,1485,765,1465,768,1450,740,1445,710]],
            ['G', [272,1408,285,1415,295,1440,280,1440]],
            ['G', [355,1440,370,1435,360,1448]],
            ['G', [312,1468,332,1460,335,1470,315,1476]],
            ['G', [1350,825,1357,825,1355,832]]
        ];

        var sharesH = [65,55,65,45,45,25,25,25,35,45,45,45,65,75,55,55,35,35,55,55,45,45,65,55,55,75,45];
        var shapesH = [
            ['H', [905,-55,1083,-162,1145,-177,1123,-130,1078,-63,1085,0,1085,50,1040,100,1030,40,985,155,965,180,930,135,908,160]],
            ['H', [908,160,930,135,965,180,985,155,1030,40,1040,100,1085,50,1102,270,1030,295,950,228,865,265,895,235]],
            ['H', [1145,-177,1251,-208,1255,0,1262,110,1320,185,1380,270,1370,310,1340,350,1345,380,1325,410,1320,435,1300,425,1265,470,1245,470,1250,490,1225,515,1195,525,1185,515,1200,480,1170,460,1120,480,1140,435,1090,320,1102,230,1085,50,1085,0,1078,-63,1123,-130]],
            ['H', [583,-80,623,-90,673,-95,658,-40,658,25,665,40,640,95,625,125,610,188,565,180,570,150,555,135,540,150,525,145,510,100,525,60,543,-90]],
            ['H', [665,40,683,40,680,70,745,90,745,115,765,125,745,150,730,195,725,215,695,215,665,192,610,188,625,125,640,95]],
            ['H', [458,248,495,180,525,160,520,145,530,145,540,150,555,135,570,150,560,180,605,190,600,215,575,235,555,240,558,288,480,282,458,278]],
            ['H', [605,190,665,192,695,215,725,215,720,240,685,265,685,325,665,335,650,350,630,382,628,350,640,315,615,320,565,300,558,288,555,240,575,235,600,215]],
            ['H', [725,200,880,158,908,165,895,235,860,228,850,215,845,228,820,240,825,265,808,260,805,295,765,305,740,368,715,345,690,335,685,265,720,240]],
            ['H', [562,300,615,320,640,315,628,350,630,382,650,350,665,335,685,325,690,335,650,370,625,400,605,395,590,360,572,345]],
            ['H', [480,282,558,288,562,300,572,345,590,360,605,395,630,465,600,485,552,512,530,555,520,585,470,578,475,540,473,450,500,405,485,400,490,310]],
            ['H', [690,335,715,345,740,368,765,305,805,295,808,260,825,265,820,240,845,228,850,215,860,228,895,235,865,265,855,325,815,360,800,435,830,460,810,525,755,540,725,545,697,515,720,480,690,420]],
            ['H', [815,360,855,325,865,265,950,228,1030,295,1090,270,1092,320,1140,435,1070,445,1000,455,960,480,935,510,915,510,900,480,885,455,880,510,870,515,855,480,830,490,815,525,830,460,800,435]],
            ['H', [285,305,350,282,430,292,480,280,490,310,485,400,500,405,473,450,475,540,390,520,320,485,235,430,285,385,285,340]],
            ['H', [322,-35,345,-10,372,-8,553,-35,537,0,510,95,520,160,495,180,458,248,458,278,430,292,350,282,350,230,335,160,330,95]],
            ['H', [45,50,75,80,100,130,135,160,150,200,175,230,250,290,278,330,285,340,285,385,235,430,232,500,180,460,85,510,60,460,15,465,-65,345,3,195,15,100]],
            ['H', [85,510,180,460,190,490,232,510,225,545,180,600,178,720,75,755,65,720,45,640,50,620,95,580,100,575]],
            ['H', [190,135,230,95,325,100,335,160,350,230,300,240,230,210,205,190]],
            ['H', [135,160,190,135,205,190,230,210,300,240,350,230,350,282,285,305,278,330,250,290,175,230,150,200]],
            ['H', [235,430,320,485,390,520,380,550,345,590,290,595,270,630,265,660,180,720,178,640,180,600,225,545,232,510,232,500]],
            ['H', [818,-195,878,-160,880,-55,905,-55,908,160,880,158,730,195,745,150,765,125,745,115,745,90,680,70,682,30,710,0,720,-30,733,-120,735,-155,785,-175]],
            ['H', [390,520,475,540,470,578,495,582,475,625,440,650,420,700,405,690,370,695,360,710,340,680,300,720,290,725,240,765,190,830,150,790,150,770,180,720,265,660,270,630,290,595,345,590,380,550]],
            ['H', [70,755,130,728,135,745,178,720,150,770,150,790,190,830,185,880,205,900,135,928,48,885,68,785]],
            ['H', [1251,-208,1313,-220,1343,-190,1323,-155,1373,-125,1383,-70,1423,-20,1433,40,1428,195,1471,200,1491,220,1495,260,1538,320,1584,370,1604,380,1600,430,1625,465,1625,485,1604,492,1570,450,1510,410,1470,420,1420,412,1322,435,1325,410,1345,380,1340,350,1370,310,1380,270,1320,185,1262,110,1255,0]],
            ['D', [1210,965,1250,992,1275,945,1340,970,1345,1130,1300,1130,1250,1120,1230,1170,1200,1195,1175,1160,1195,1060]],
            ['D', [1045,1340,1135,1220,1195,1210,1220,1170,1250,1120,1300,1130,1290,1225,1285,1365,1190,1360,1155,1390,1100,1425,1070,1400,1060,1365]],
            ['D', [1005,875,1140,870,1208,960,1195,1060,1175,1160,1197,1195,1135,1220,1110,1265,1042,1340,1010,1305,970,1280,945,1250,940,1185,890,1140,985,1030,990,995,1010,960]],
            ['H', [1062,485,1112,480,1062,535]]
        ];

        var sharesI = [75,75,65,45,45,55,55,null,35,55,55,55,45,55,55,25,35,55,55,45];
        var shapesI = [
            ['D', [1400,935,1530,955,1505,1015,1500,1060,1530,1095,1530,1130,1560,1170,1520,1225,1340,1252,1310,1240,1290,1225,1300,1130,1340,1130,1345,980]],
            ['E', [790,1040,900,1012,1005,1117,1085,1092,1155,1375,1155,1395,1105,1430,1060,1470,975,1520,968,1480,948,1460,905,1455,910,1300,900,1240,860,1190,850,1135,800,1105,820,1070]],
            ['I', [620,155,610,290,630,480,665,600,682,695,680,735,660,755,625,760,590,770,540,782,520,750,495,655,495,620,470,570,455,540,435,520,440,420,420,380,345,355,340,310,342,280,325,235,385,218,565,172,570,185]],
            ['I', [372,235,385,230,410,260,395,288,370,270]],
            ['I', [128,252,290,195,325,235,342,280,342,320,325,320,280,375,288,392,158,422]],
            ['I', [158,422,288,392,280,375,325,320,345,355,420,380,370,420,345,460,262,535,258,578,220,570,205,530,178,533]],
            ['I', [370,420,420,385,440,420,435,520,450,545,425,578,385,580,345,612,335,590,258,578,262,535,345,460]],
            ['I', [330,480,342,465,382,505,365,558,350,530,335,515]],
            ['I', [178,533,205,530,258,578,335,590,347,615,335,650,365,790,350,805,340,795,300,790,270,828,235,825]],
            ['I', [178,556,235,825,200,855,195,880,172,875,165,850,145,865,142,885,120,850,125,795,105,790,45,680,130,590]],
            ['I', [345,615,385,580,425,578,450,540,495,610,495,655,520,750,508,818,470,825,428,850,402,792,365,790,335,650]],
            ['I', [612,155,685,142,785,395,785,418,770,418,748,470,695,545,682,590,668,605,630,480,612,290]],
            ['I', [770,418,785,418,795,510,810,520,810,595,790,595,770,630,772,740,760,742,740,720,730,680,710,695,680,695,675,650,682,590,695,545,748,470]],
            ['I', [732,255,825,228,835,260,845,295,835,320,870,320,880,280,905,330,915,400,908,430,925,490,945,545,958,605,962,655,945,680,905,685,860,640,845,665,830,640,810,590,810,520,795,510,785,400]],
            ['I', [825,228,895,205,940,190,965,195,968,250,965,350,940,350,908,430,915,400,905,330,880,280,870,320,835,320,845,295,835,260]],
            ['I', [940,352,972,342,990,440,1000,605,978,618,972,650,960,660,958,605,945,545,925,490,908,460,908,430]],
            ['I', [965,250,975,288,1110,288,1135,335,1135,460,1155,500,1190,550,1175,600,1150,595,1145,640,1120,610,1100,625,1090,605,1060,605,1050,615,1000,605,990,440,972,342,965,350]],
            ['I', [1110,288,1220,285,1230,270,1250,170,1250,220,1230,290,1230,345,1265,410,1265,445,1245,490,1250,520,1230,580,1215,585,1190,545,1155,500,1135,460,1135,335]],
            ['I', [1250,150,1385,212,1380,300,1385,330,1375,350,1385,400,1365,400,1350,455,1375,470,1375,515,1340,525,1310,552,1280,520,1250,520,1245,490,1265,445,1265,410,1230,345,1230,290,1250,220]],
            ['I', [1385,212,1445,232,1450,290,1465,315,1470,380,1462,410,1475,485,1420,575,1375,515,1375,470,1350,455,1365,400,1385,400,1375,350,1385,330,1380,300]]
        ];

        var bandColors = ['#440154', '#414487', '#2a788e', '#22a884', '#7ad151', '#fde725'];

        function toRing(frameKey, flat) {
            var f = frames[frameKey], ring = [];
            for (var i = 0; i < flat.length; i += 2) {
                ring.push([f[0] + flat[i] / f[2], -(f[1] + flat[i + 1] / f[3])]);
            }
            ring.push(ring[0]);
            return ring;
        }

        var features = [], seriesData = [];
        function addZone(shape, value, itemStyle) {
            var name = 'zone' + (features.length + 1);
            features.push({
                type: 'Feature',
                properties: {name: name},
                geometry: {type: 'Polygon', coordinates: [toRing(shape[0], shape[1])]}
            });
            var item = {name: name, value: value};
            if (itemStyle) item.itemStyle = itemStyle;
            seriesData.push(item);
        }
        function addZones(shapes, shares) {
            if (shapes.length !== shares.length) {
                console.error('zone count differs', shapes.length, shares.length);
            }
            shapes.forEach(function (s, i) { addZone(s, shares[i]); });
        }
        addZone(landShape, landShare, {borderWidth: 0});
        paleShapes.forEach(function (s) {
            addZone(s, null, {areaColor: '#e8e8e8', borderColor: '#b5b5b5'});
        });
        addZones(shapesA, sharesA);
        addZones(shapesB, sharesB);
        addZones(shapesC, sharesC);
        addZones(shapesC2, sharesC2);
        addZones(shapesD, sharesD);
        addZones(shapesE, sharesE);
        addZones(shapesF, sharesF);
        addZones(shapesG, sharesG);
        addZones(shapesH, sharesH);
        addZones(shapesI, sharesI);

        echarts.registerMap('ct', {type: 'FeatureCollection', features: features});

        var myChart = echarts.init(document.getElementById('box'));
        var font = '"DejaVu Sans"';
        var barSeries = barSteps.map(function (v, i) {
            return {type: 'bar', stack: 'bar', data: [v], barWidth: '100%', silent: true,
                    itemStyle: {color: bandColors[i]}};
        });
        myChart.setOption({
            animation: false,
            backgroundColor: '#fff',
            textStyle: {fontFamily: font},
            title: [
                {text: 'Married Couple (% of all Households) by Zip Code (ZCTA5) \u2014 Connecticut',
                 left: 'center', top: 35, textStyle: {fontFamily: font, fontSize: 44.5, fontWeight: 'bold', color: '#000'}},
                {text: '\u00a9 ZipCrawl', right: 252, top: 1471, textStyle: {fontFamily: font, fontSize: 27.8, fontWeight: 'normal', color: '#aaa'}},
                {text: 'Data: U.S. Census Bureau, 2023 ACS', right: 252, top: 1519, textStyle: {fontFamily: font, fontSize: 27.8, fontWeight: 'normal', color: '#aaa'}}
            ],
            visualMap: {
                type: 'piecewise', show: false, seriesIndex: 0,
                pieces: bandColors.map(function (c, i) {
                    return {gte: bandTicks[i], lt: bandTicks[i + 1], color: c};
                }),
                outOfRange: {color: '#d3d3d3'}
            },
            grid: {left: 2848, top: 240, width: 45, height: 1119},
            xAxis: [
                {type: 'category', data: [''], position: 'bottom', z: 5, axisTick: {show: false}, axisLabel: {show: false},
                 axisLine: {show: true, onZero: false, lineStyle: {color: '#000', width: 2.5}}},
                {type: 'category', data: [''], position: 'top', z: 5, axisTick: {show: false}, axisLabel: {show: false},
                 axisLine: {show: true, onZero: false, lineStyle: {color: '#000', width: 2.5}}}
            ],
            yAxis: [
                {type: 'value', min: 20, max: 80, interval: 10, position: 'right', z: 5, splitLine: {show: false},
                 axisLine: {show: true, onZero: false, lineStyle: {color: '#000', width: 2.5}},
                 axisTick: {show: true, length: 10, lineStyle: {color: '#000', width: 2.5}},
                 axisLabel: {margin: 20, color: '#000', fontFamily: font,
                             rich: {t: {fontSize: 27, color: '#000', fontFamily: font, padding: [8, 0, 0, 0]}},
                             formatter: function (v) { return '{t|' + bandLabels[bandTicks.indexOf(v)] + '}'; }}},
                {type: 'value', min: 20, max: 80, interval: 10, position: 'left', z: 5, splitLine: {show: false},
                 axisLine: {show: true, onZero: false, lineStyle: {color: '#000', width: 2.5}},
                 axisTick: {show: false}, axisLabel: {show: false}}
            ],
            series: [{
                type: 'map',
                map: 'ct',
                silent: true,
                aspectScale: 1,
                boundingCoords: [[0, 0], [3200, -1600]],
                left: 0, top: 0, width: 3200, height: 1600,
                label: {show: false},
                itemStyle: {areaColor: '#d3d3d3', borderColor: '#333', borderWidth: 1},
                emphasis: {disabled: true},
                select: {disabled: true},
                data: seriesData
            }].concat(barSeries)
        });
    </script>
  </body>
</html>
